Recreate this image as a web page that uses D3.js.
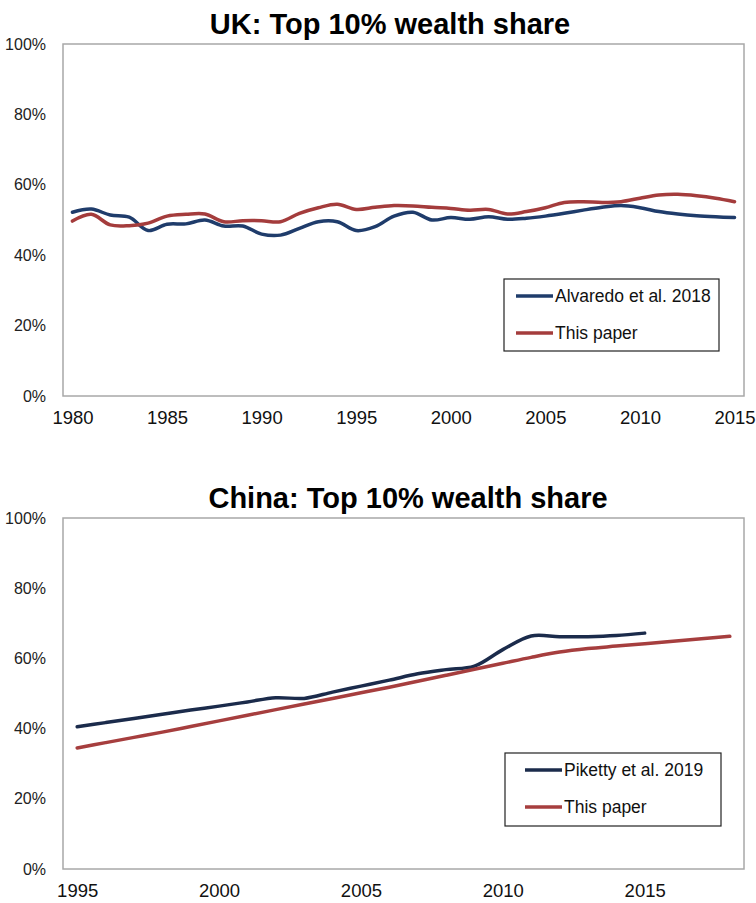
<!DOCTYPE html>
<html>
<head>
<meta charset="utf-8">
<script src="https://cdn.jsdelivr.net/npm/d3@7"></script>
<style>
  body { margin: 0; background: #fff; }
  svg { display: block; font-family: "Liberation Sans", Arial, sans-serif; }
  .title { font-weight: bold; font-size: 29px; fill: #000; }
  .ytick text { font-size: 16px; fill: #222; }
  .xtick text { font-size: 18.5px; fill: #111; }
  .legend text { font-size: 17.5px; fill: #111; }
</style>
</head>
<body>
<svg width="756" height="903"></svg>
<script>
// UK panel
var ukYears = d3.range(1980, 2016);
var ukAlvaredo = [52.2, 53.1, 51.4, 50.8, 47.0, 48.8, 48.9, 50.0, 48.3, 48.3,
                  46.0, 45.7, 47.6, 49.5, 49.5, 47.0, 48.1, 51.1, 52.2, 50.0,
                  50.7, 50.2, 50.9, 50.2, 50.5, 51.1, 51.9, 52.8, 53.6, 54.1,
                  53.5, 52.4, 51.7, 51.2, 50.9, 50.7];
var ukThisPaper = [49.7, 51.6, 48.6, 48.4, 49.1, 51.1, 51.6, 51.7, 49.5, 49.8,
                   49.8, 49.5, 51.9, 53.5, 54.5, 53.0, 53.6, 54.1, 54.0, 53.6,
                   53.3, 52.8, 53.0, 51.7, 52.4, 53.5, 55.0, 55.2, 55.0, 55.2,
                   56.2, 57.1, 57.3, 56.9, 56.2, 55.2];
var ukTicks = [1980, 1985, 1990, 1995, 2000, 2005, 2010, 2015];

// China panel
var cnYears = d3.range(1995, 2019);
var cnPiketty = [40.5, 41.7, 42.9, 44.1, 45.3, 46.4, 47.6, 48.8, 48.6, 50.4,
                 52.1, 53.8, 55.6, 56.8, 57.8, 62.5, 66.4, 66.2, 66.2, 66.5, 67.2];
var cnThisPaper = [34.5, 36.0, 37.5, 39.0, 40.6, 42.2, 43.8, 45.4, 47.0, 48.6,
                   50.2, 51.8, 53.5, 55.2, 56.9, 58.6, 60.3, 61.8, 62.8, 63.5,
                   64.2, 64.9, 65.6, 66.3];
var cnTicks = [1995, 2000, 2005, 2010, 2015];

var yTicks = [0, 20, 40, 60, 80, 100];

var svg = d3.select("svg");

function drawPanel(opt) {
  var g = svg.append("g");

  var x = d3.scalePoint()
      .domain(opt.years)
      .range([opt.left, opt.right])
      .padding(0.5);

  var y = d3.scaleLinear()
      .domain([0, 100])
      .range([opt.bottom, opt.top]);

  // plot frame
  g.append("rect")
      .attr("x", opt.left)
      .attr("y", opt.top)
      .attr("width", opt.right - opt.left)
      .attr("height", opt.bottom - opt.top)
      .attr("fill", "none")
      .attr("stroke", "#a8a8a8")
      .attr("stroke-width", 1.5);

  g.append("text")
      .attr("class", "title")
      .attr("x", opt.titleX)
      .attr("y", opt.top - 10)
      .attr("text-anchor", "middle")
      .text(opt.title);

  var yAxis = g.append("g")
      .attr("class", "ytick")
      .attr("transform", "translate(" + (opt.left - 14) + ",0)")
      .call(d3.axisLeft(y).tickValues(yTicks).tickSize(0).tickFormat(function(d) { return d + "%"; }));
  yAxis.select(".domain").remove();

  var xAxis = g.append("g")
      .attr("class", "xtick")
      .attr("transform", "translate(0," + (opt.bottom + 10) + ")")
      .call(d3.axisBottom(x).tickValues(opt.ticks).tickSize(0));
  xAxis.select(".domain").remove();
  xAxis.selectAll("text").attr("y", 0).attr("dy", "0.95em");

  var line = d3.line()
      .x(function(d) { return x(d[0]); })
      .y(function(d) { return y(d[1]); })
      .curve(d3.curveCatmullRom.alpha(0.5));

  opt.series.forEach(function(s) {
    var pts = s.values.map(function(v, i) { return [opt.years[i], v]; });
    g.append("path")
        .datum(pts)
        .attr("fill", "none")
        .attr("stroke", s.color)
        .attr("stroke-width", 3.5)
        .attr("stroke-linecap", "round")
        .attr("d", line);
  });

  // legend
  var lg = g.append("g").attr("class", "legend");
  lg.append("rect")
      .attr("x", opt.legend.x)
      .attr("y", opt.legend.y)
      .attr("width", opt.legend.w)
      .attr("height", opt.legend.h)
      .attr("fill", "#fff")
      .attr("stroke", "#222")
      .attr("stroke-width", 1.2);

  var item = lg.selectAll("g.item")
      .data(opt.series)
      .enter().append("g")
      .attr("class", "item")
      .attr("transform", function(d, i) {
        return "translate(" + (opt.legend.x + opt.legend.pad) + "," + (opt.legend.y + 17 + i * 37) + ")";
      });

  item.append("line")
      .attr("x1", 0)
      .attr("x2", 37)
      .attr("stroke", function(d) { return d.color; })
      .attr("stroke-width", 3.5);

  item.append("text")
      .attr("x", 39)
      .attr("dy", "0.35em")
      .text(function(d) { return d.name; });
}

drawPanel({
  title: "UK: Top 10% wealth share",
  titleX: 390,
  years: ukYears,
  ticks: ukTicks,
  left: 63, right: 744, top: 44, bottom: 396,
  series: [
    {name: "Alvaredo et al. 2018", values: ukAlvaredo, color: "#1f3c6b"},
    {name: "This paper", values: ukThisPaper, color: "#a43c3c"}
  ],
  legend: {x: 504, y: 279, w: 215, h: 72, pad: 12}
});

drawPanel({
  title: "China: Top 10% wealth share",
  titleX: 408,
  years: cnYears,
  ticks: cnTicks,
  left: 63, right: 744, top: 518, bottom: 869,
  series: [
    {name: "Piketty et al. 2019", values: cnPiketty, color: "#1b2b4b"},
    {name: "This paper", values: cnThisPaper, color: "#a63e3e"}
  ],
  legend: {x: 505, y: 753, w: 216, h: 73, pad: 20}
});
</script>
</body>
</html>
